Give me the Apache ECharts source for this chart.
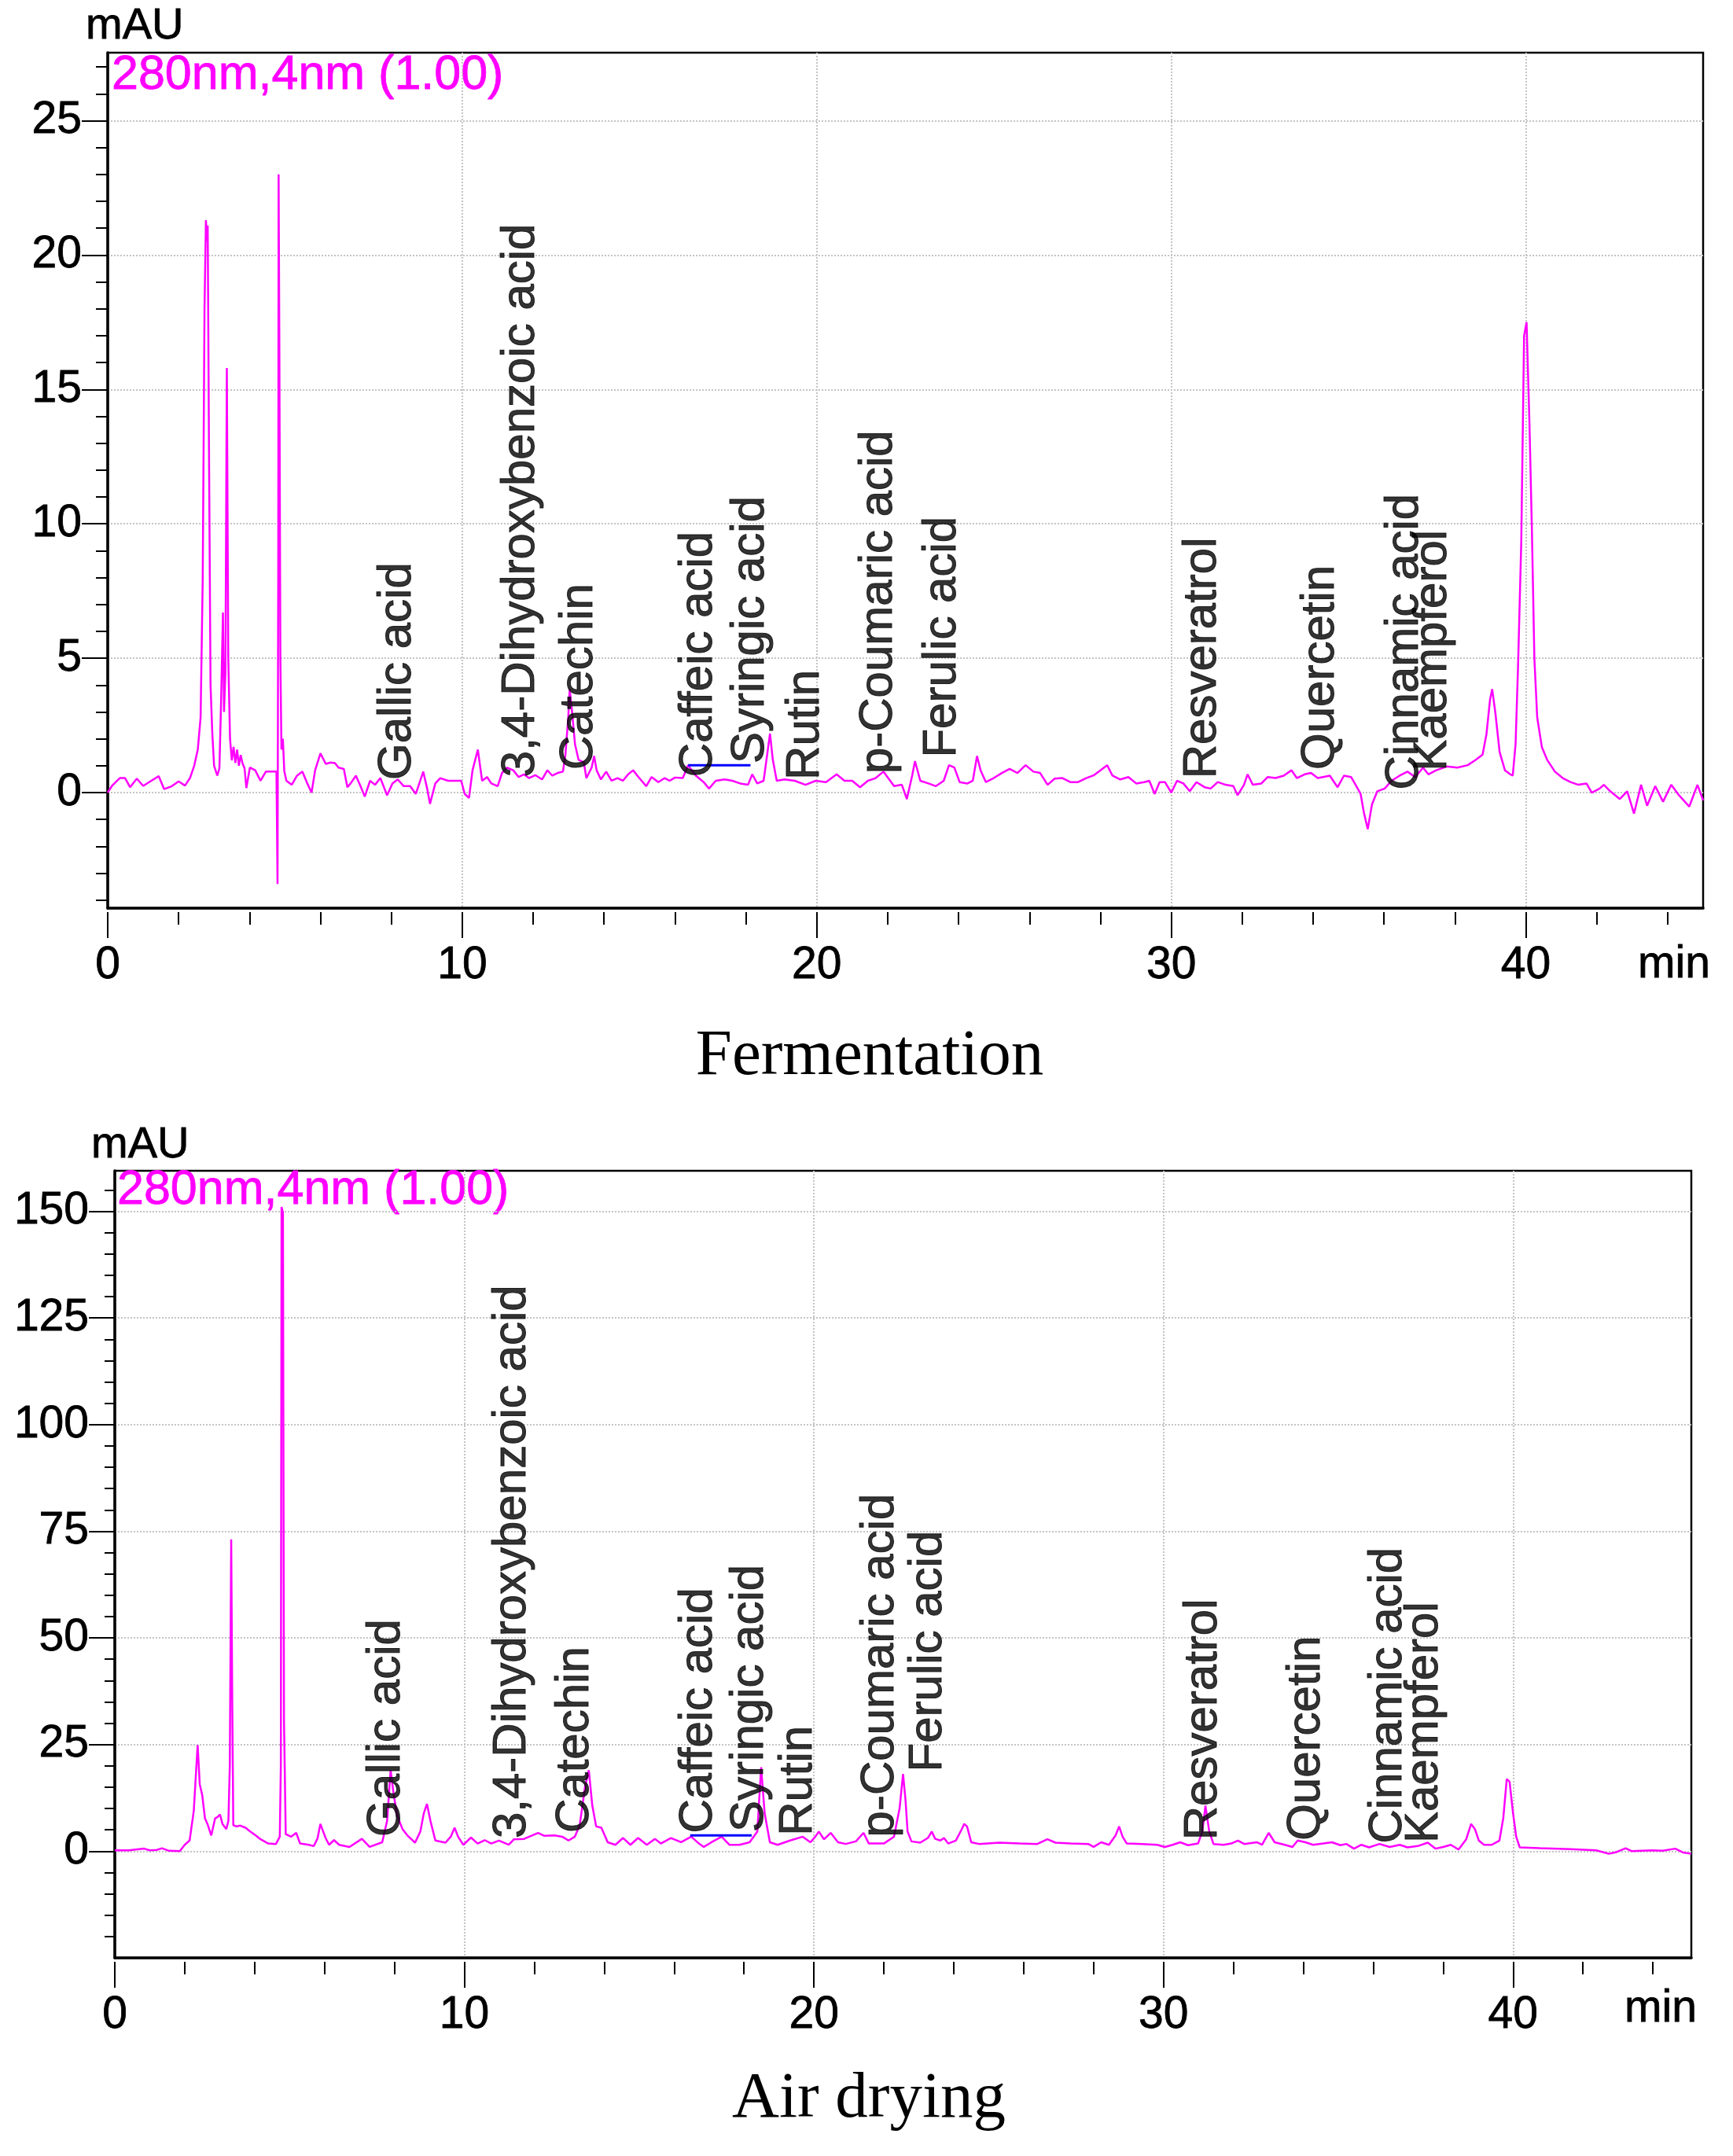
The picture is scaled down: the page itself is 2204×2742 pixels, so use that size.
<!DOCTYPE html>
<html>
<head>
<meta charset="utf-8">
<script src="https://cdn.jsdelivr.net/npm/echarts@6/dist/echarts.min.js"></script>
<style>
html, body { margin: 0; padding: 0; background: #fff; }
#chart { width: 2204px; height: 2742px; }
</style>
</head>
<body>
<div id="chart"></div>
<script>
// Fermentation trace (min, mAU)
var topTime = [0.00, 0.12, 0.34, 0.49, 0.63, 0.82, 1.00, 1.29, 1.44, 1.59, 1.81, 2.00, 2.18, 2.32, 2.44, 2.54, 2.62, 2.68, 2.73, 2.77,
    2.80, 2.82, 2.86, 2.90, 2.95, 3.00, 3.09, 3.15, 3.20, 3.25, 3.28, 3.32, 3.36, 3.40, 3.45, 3.50, 3.55, 3.60, 3.65, 3.70,
    3.75, 3.80, 3.86, 3.91, 4.01, 4.16, 4.31, 4.46, 4.60, 4.76, 4.79, 4.81, 4.82, 4.84, 4.87, 4.90, 4.94, 4.98, 5.04, 5.19,
    5.34, 5.49, 5.63, 5.75, 5.85, 6.00, 6.15, 6.29, 6.41, 6.51, 6.66, 6.76, 6.85, 7.00, 7.13, 7.25, 7.40, 7.54, 7.69, 7.88,
    8.03, 8.18, 8.35, 8.53, 8.69, 8.90, 9.01, 9.09, 9.24, 9.38, 9.60, 9.97, 10.07, 10.19, 10.29, 10.44, 10.56, 10.70, 10.82, 11.00,
    11.12, 11.26, 11.44, 11.59, 11.74, 11.88, 12.06, 12.25, 12.40, 12.54, 12.69, 12.84, 12.91, 12.99, 13.03, 13.10, 13.18, 13.28, 13.43, 13.50,
    13.65, 13.72, 13.79, 13.91, 14.06, 14.21, 14.38, 14.53, 14.68, 14.82, 14.97, 15.19, 15.34, 15.53, 15.71, 15.85, 16.00, 16.22, 16.37, 16.59,
    16.81, 16.96, 17.15, 17.40, 17.62, 17.84, 18.06, 18.18, 18.32, 18.50, 18.60, 18.68, 18.76, 18.87, 19.09, 19.38, 19.68, 19.97, 20.26, 20.56,
    20.78, 21.00, 21.22, 21.44, 21.66, 21.88, 22.18, 22.40, 22.54, 22.69, 22.77, 22.92, 23.15, 23.36, 23.58, 23.73, 23.88, 24.03, 24.25, 24.40,
    24.52, 24.62, 24.77, 24.99, 25.22, 25.44, 25.66, 25.89, 26.11, 26.30, 26.51, 26.71, 26.93, 27.15, 27.37, 27.60, 27.82, 28.00, 28.19, 28.34,
    28.56, 28.79, 29.01, 29.23, 29.38, 29.53, 29.67, 29.82, 30.00, 30.16, 30.34, 30.52, 30.71, 30.94, 31.11, 31.31, 31.53, 31.75, 31.87, 32.05,
    32.15, 32.30, 32.54, 32.72, 32.94, 33.17, 33.39, 33.54, 33.76, 33.94, 34.13, 34.28, 34.47, 34.69, 34.87, 35.07, 35.22, 35.34, 35.43, 35.54,
    35.66, 35.81, 36.02, 36.21, 36.44, 36.66, 36.88, 37.10, 37.25, 37.47, 37.77, 38.07, 38.36, 38.59, 38.78, 38.89, 38.99, 39.05, 39.14, 39.26,
    39.41, 39.56, 39.63, 39.71, 39.78, 39.87, 39.95, 40.02, 40.10, 40.17, 40.24, 40.32, 40.45, 40.60, 40.82, 41.04, 41.26, 41.48, 41.71, 41.86,
    42.08, 42.20, 42.38, 42.65, 42.86, 43.05, 43.25, 43.42, 43.65, 43.87, 44.10, 44.32, 44.61, 44.84, 45.00];
var topValue = [0.00, 0.25, 0.54, 0.54, 0.20, 0.52, 0.25, 0.49, 0.61, 0.13, 0.24, 0.42, 0.26, 0.54, 1.00, 1.60, 2.80, 8.0, 18.0, 21.3,
    20.5, 21.1, 12.0, 4.0, 2.2, 1.0, 0.63, 0.9, 3.5, 6.7, 3.0, 4.5, 15.8, 5.0, 2.0, 1.2, 1.7, 1.1, 1.6, 1.0,
    1.4, 1.1, 0.9, 0.17, 0.93, 0.83, 0.44, 0.78, 0.78, 0.78, -3.4, 8.5, 23.0, 17.0, 5.0, 1.6, 2.0, 0.8, 0.44, 0.29,
    0.63, 0.78, 0.34, 0.00, 0.83, 1.46, 1.07, 1.12, 1.10, 0.93, 0.88, 0.20, 0.34, 0.63, 0.24, -0.15, 0.44, 0.29, 0.54, -0.10,
    0.34, 0.49, 0.24, 0.24, -0.05, 0.78, 0.15, -0.42, 0.34, 0.54, 0.44, 0.44, -0.05, -0.20, 0.83, 1.60, 0.44, 0.58, 0.34, 0.24,
    0.73, 0.93, 0.83, 0.58, 0.68, 0.54, 0.65, 0.49, 0.83, 0.63, 0.73, 0.78, 1.41, 2.80, 3.85, 2.97, 1.80, 1.22, 1.12, 0.54,
    0.93, 1.36, 0.83, 0.49, 0.78, 0.44, 0.54, 0.44, 0.68, 0.83, 0.58, 0.24, 0.58, 0.39, 0.54, 0.44, 0.56, 0.54, 1.02, 0.63,
    0.39, 0.15, 0.44, 0.49, 0.44, 0.34, 0.29, 0.68, 0.34, 0.44, 1.41, 2.20, 1.22, 0.44, 0.49, 0.44, 0.29, 0.44, 0.39, 0.68,
    0.44, 0.44, 0.20, 0.44, 0.54, 0.78, 0.24, 0.29, -0.24, 0.63, 1.17, 0.44, 0.34, 0.24, 0.44, 1.02, 0.93, 0.39, 0.34, 0.44,
    1.36, 0.83, 0.39, 0.54, 0.73, 0.88, 0.73, 1.02, 0.78, 0.73, 0.29, 0.52, 0.54, 0.39, 0.39, 0.54, 0.65, 0.83, 1.02, 0.63,
    0.49, 0.58, 0.34, 0.39, 0.44, -0.05, 0.39, 0.39, 0.00, 0.44, 0.34, 0.05, 0.39, 0.20, 0.15, 0.39, 0.29, 0.24, -0.10, 0.29,
    0.68, 0.29, 0.34, 0.58, 0.54, 0.63, 0.83, 0.54, 0.68, 0.73, 0.54, 0.58, 0.63, 0.20, 0.63, 0.58, 0.24, -0.05, -0.73, -1.36,
    -0.44, 0.05, 0.15, 0.44, 0.63, 0.78, 0.58, 0.93, 0.68, 0.83, 0.97, 0.93, 1.02, 1.22, 1.41, 2.19, 3.46, 3.85, 2.97, 1.51,
    0.83, 0.68, 0.63, 1.80, 4.7, 9.3, 17.0, 17.5, 13.8, 9.8, 5.0, 2.8, 1.7, 1.22, 0.78, 0.54, 0.39, 0.29, 0.34, 0.00,
    0.15, 0.29, 0.05, -0.24, 0.05, -0.78, 0.29, -0.49, 0.24, -0.34, 0.29, -0.10, -0.52, 0.29, -0.29];

// Air drying trace (min, mAU)
var botTime = [0.00, 0.40, 0.84, 1.00, 1.20, 1.35, 1.55, 1.86, 2.00, 2.14,
    2.26, 2.32, 2.37, 2.43, 2.50, 2.58, 2.65, 2.76, 2.87, 2.94,
    3.01, 3.08, 3.19, 3.25, 3.29, 3.33, 3.36, 3.39, 3.48, 3.59,
    3.74, 3.88, 4.03, 4.17, 4.39, 4.61, 4.72, 4.75, 4.77, 4.81,
    4.84, 4.89, 5.04, 5.19, 5.30, 5.55, 5.69, 5.80, 5.88, 6.03,
    6.13, 6.27, 6.42, 6.71, 7.07, 7.29, 7.65, 7.79, 7.89, 7.98,
    8.08, 8.23, 8.37, 8.59, 8.74, 8.84, 8.93, 9.03, 9.17, 9.46,
    9.61, 9.72, 9.82, 9.97, 10.19, 10.38, 10.58, 10.77, 10.99, 11.27,
    11.42, 11.71, 12.11, 12.29, 12.58, 12.80, 12.98, 13.16, 13.30, 13.45,
    13.56, 13.66, 13.77, 13.92, 14.10, 14.32, 14.54, 14.75, 14.97, 15.22,
    15.45, 15.62, 15.91, 16.20, 16.49, 16.71, 16.85, 17.07, 17.36, 17.58,
    17.87, 18.16, 18.38, 18.49, 18.59, 18.74, 18.96, 19.32, 19.68, 19.90,
    20.04, 20.14, 20.29, 20.48, 20.69, 20.91, 21.20, 21.42, 21.57, 22.00,
    22.29, 22.45, 22.55, 22.62, 22.68, 22.79, 23.04, 23.26, 23.37, 23.47,
    23.62, 23.72, 23.84, 24.06, 24.22, 24.30, 24.38, 24.50, 24.72, 25.30,
    25.88, 26.39, 26.68, 26.91, 27.34, 27.85, 28.00, 28.22, 28.44, 28.63,
    28.73, 28.83, 28.95, 29.39, 29.82, 30.04, 30.26, 30.48, 30.70, 30.99,
    31.11, 31.20, 31.31, 31.43, 31.72, 31.94, 32.13, 32.31, 32.67, 32.82,
    33.01, 33.18, 33.47, 33.69, 33.84, 34.06, 34.28, 34.57, 34.82, 35.06,
    35.23, 35.45, 35.66, 35.88, 36.18, 36.47, 36.76, 36.98, 37.27, 37.56,
    37.78, 38.00, 38.22, 38.44, 38.66, 38.80, 38.91, 39.02, 39.17, 39.39,
    39.61, 39.72, 39.82, 39.90, 40.00, 40.09, 40.19, 40.77, 41.65, 42.38,
    42.74, 42.96, 43.22, 43.40, 43.98, 44.28, 44.64, 44.86, 45.10];
var botValue = [0.2, 0.2, 0.6, 0.2, 0.3, 0.7, 0.1, 0.0, 1.5, 2.5,
    9.5, 18.0, 24.9, 15.7, 13.2, 7.7, 6.4, 3.7, 7.7, 8.0,
    8.6, 6.4, 5.2, 7.1, 20.0, 73.1, 35.0, 6.1, 5.8, 6.0,
    5.5, 4.6, 3.7, 2.8, 1.8, 1.7, 3.4, 20.0, 151.0, 149.7,
    30.5, 4.0, 3.4, 4.3, 1.8, 1.5, 1.2, 3.0, 6.4, 3.1,
    1.5, 2.6, 1.5, 1.0, 2.9, 1.0, 2.1, 7.1, 19.0, 13.2,
    8.3, 5.2, 3.7, 2.0, 4.6, 8.9, 11.1, 7.1, 2.5, 2.0,
    3.4, 5.5, 3.4, 1.5, 3.2, 1.8, 2.6, 1.8, 2.5, 1.5,
    2.8, 2.9, 4.3, 3.6, 3.7, 3.4, 2.5, 3.4, 6.1, 15.0,
    19.0, 10.7, 5.8, 5.5, 2.1, 1.5, 3.1, 1.5, 3.1, 1.5,
    2.9, 1.8, 3.1, 2.1, 3.4, 1.8, 1.0, 2.1, 3.4, 1.5,
    1.5, 2.1, 4.6, 19.7, 8.9, 2.1, 1.5, 2.5, 3.4, 2.1,
    3.4, 4.6, 2.8, 4.3, 2.1, 1.7, 2.3, 4.3, 1.8, 1.8,
    3.4, 10.0, 18.1, 12.0, 4.6, 2.3, 2.0, 3.1, 4.6, 2.9,
    2.5, 3.1, 1.8, 2.5, 5.0, 6.4, 5.8, 2.1, 1.7, 2.0,
    1.8, 1.7, 2.8, 2.0, 1.8, 1.7, 1.0, 2.1, 1.5, 3.7,
    5.8, 3.4, 1.8, 1.7, 1.5, 1.0, 1.5, 2.1, 1.4, 1.8,
    4.6, 10.7, 4.6, 1.7, 1.5, 1.8, 2.5, 1.7, 2.1, 1.5,
    4.3, 2.1, 1.5, 1.0, 2.5, 2.1, 1.5, 1.8, 2.1, 1.4,
    1.7, 0.6, 1.5, 0.9, 1.7, 1.0, 1.5, 0.9, 1.2, 2.0,
    0.6, 1.0, 1.5, 0.4, 2.8, 6.4, 5.2, 2.5, 1.5, 1.5,
    2.5, 7.7, 16.9, 16.3, 8.9, 3.4, 0.9, 0.7, 0.5, 0.2,
    -0.6, -0.2, 0.7, 0.0, 0.2, 0.1, 0.6, -0.3, -0.6];

// peak names and where their text starts (min, mAU)
var peakNames = ['Gallic acid', '3,4-Dihydroxybenzoic acid', 'Catechin', 'Caffeic acid', 'Syringic acid', 'Rutin',
    'p-Coumaric acid', 'Ferulic acid', 'Resveratrol', 'Quercetin', 'Cinnamic acid', 'Kaempferol'];
var topLabelTime = [8.18, 11.65, 13.30, 16.67, 18.14, 19.69, 21.75, 23.54, 30.89, 34.22, 36.59, 37.37];
var topLabelBase = [0.47, 0.58, 0.85, 0.58, 1.08, 0.47, 0.70, 1.30, 0.52, 0.85, 0.10, 0.80];
var botLabelTime = [7.78, 11.36, 13.17, 16.71, 18.16, 19.55, 21.89, 23.27, 31.15, 34.09, 36.43, 37.47];
var botLabelBase = [3.4, 3.0, 4.3, 4.2, 4.5, 3.6, 3.3, 18.6, 2.6, 2.5, 1.8, 1.9];

// integration baselines (min, mAU)
var topBaseline = [[16.37, 1.02], [18.13, 1.02]];
var botBaseline = [[16.46, 3.7], [18.22, 3.7]];

// axis ticks
var xTicks = [0, 10, 20, 30, 40];
var topYTicks = [0, 5, 10, 15, 20, 25];
var botYTicks = [0, 25, 50, 75, 100, 125, 150];

function minorList(from, to, step, major) {
    var out = [];
    for (var v = from; v <= to + 1e-9; v += step) {
        if (Math.abs(v % major) > 1e-9) out.push(Math.round(v * 100) / 100);
    }
    return out;
}
var xMinor = minorList(2, 44, 2, 10);
var topYMinor = minorList(-4, 27, 1, 5);
var botYMinor = minorList(-20, 155, 5, 25);

var SANS = 'Liberation Sans';
var SERIF = 'Liberation Serif';
var MAGENTA = '#ff00ff';

function pairs(t, v) {
    return t.map(function (x, i) { return [x, v[i]]; });
}

function mainAxis(dim, grid, min, max, ticks) {
    return {
        type: 'value', gridIndex: grid, min: min, max: max,
        position: dim === 'x' ? 'bottom' : 'left',
        axisLine: { show: true, onZero: false, lineStyle: { color: '#000', width: 3.5 } },
        axisTick: { show: false, customValues: ticks },
        axisLabel: {
            show: true, customValues: ticks, margin: dim === 'x' ? 45 : 33,
            fontSize: 57, fontFamily: SANS, color: '#000',
            textBorderColor: '#000', textBorderWidth: 0.8
        },
        splitLine: { show: true, lineStyle: { color: '#c4c4c4', type: 'dotted', width: 2 } }
    };
}

function tickAxis(dim, grid, min, max, ticks, len, offset) {
    return {
        type: 'value', gridIndex: grid, min: min, max: max, offset: offset,
        position: dim === 'x' ? 'bottom' : 'left',
        axisLine: { show: false, onZero: false },
        axisLabel: { show: false },
        splitLine: { show: false },
        axisTick: { show: true, customValues: ticks, length: len, lineStyle: { color: '#000', width: 2 } }
    };
}

var TOP_X = [0, 45.0], TOP_Y = [-4.3, 27.53];
var BOT_X = [0, 45.1], BOT_Y = [-25, 159.5];

function labelSeries(xi, yi, times, bases) {
    return {
        type: 'scatter', xAxisIndex: xi, yAxisIndex: yi, symbolSize: 1, silent: true, z: 5,
        itemStyle: { color: 'rgba(0,0,0,0)' },
        data: peakNames.map(function (n, i) { return { name: n, value: [times[i], bases[i]] }; }),
        label: {
            show: true, position: 'inside', rotate: 90, align: 'left', verticalAlign: 'middle',
            formatter: '{b}', fontSize: 60, fontFamily: SANS, color: '#000',
            textBorderColor: '#000', textBorderWidth: 1
        }
    };
}

function text(x, y, str, size, family, color, align, weight) {
    return {
        type: 'text', x: x, y: y, silent: true,
        style: {
            text: str, fontSize: size, fontFamily: family, fill: color,
            stroke: color, lineWidth: weight,
            textAlign: align, textVerticalAlign: 'middle', align: align, verticalAlign: 'middle'
        }
    };
}

var option = {
    backgroundColor: '#fff',
    animation: false,
    grid: [
        { left: 137, top: 67, width: 2029, height: 1088, show: true, borderColor: '#000', borderWidth: 2.5 },
        { left: 146, top: 1489, width: 2005, height: 1001, show: true, borderColor: '#000', borderWidth: 2.5 }
    ],
    xAxis: [
        mainAxis('x', 0, TOP_X[0], TOP_X[1], xTicks),
        tickAxis('x', 0, TOP_X[0], TOP_X[1], xTicks, 33, 5),
        tickAxis('x', 0, TOP_X[0], TOP_X[1], xMinor, 16, 5),
        mainAxis('x', 1, BOT_X[0], BOT_X[1], xTicks),
        tickAxis('x', 1, BOT_X[0], BOT_X[1], xTicks, 33, 5),
        tickAxis('x', 1, BOT_X[0], BOT_X[1], xMinor, 16, 5)
    ],
    yAxis: [
        mainAxis('y', 0, TOP_Y[0], TOP_Y[1], topYTicks),
        tickAxis('y', 0, TOP_Y[0], TOP_Y[1], topYTicks, 33, 0),
        tickAxis('y', 0, TOP_Y[0], TOP_Y[1], topYMinor, 15, 0),
        mainAxis('y', 1, BOT_Y[0], BOT_Y[1], botYTicks),
        tickAxis('y', 1, BOT_Y[0], BOT_Y[1], botYTicks, 33, 0),
        tickAxis('y', 1, BOT_Y[0], BOT_Y[1], botYMinor, 13, 0)
    ],
    series: [
        {
            type: 'line', xAxisIndex: 0, yAxisIndex: 0, data: pairs(topTime, topValue),
            showSymbol: false, symbol: 'none', clip: true,
            lineStyle: { color: MAGENTA, width: 2.5 }, z: 3
        },
        {
            type: 'line', xAxisIndex: 0, yAxisIndex: 0, data: topBaseline,
            showSymbol: false, symbol: 'none', lineStyle: { color: '#0000ff', width: 3 }, z: 4
        },
        labelSeries(0, 0, topLabelTime, topLabelBase),
        {
            type: 'line', xAxisIndex: 3, yAxisIndex: 3, data: pairs(botTime, botValue),
            showSymbol: false, symbol: 'none', clip: true,
            lineStyle: { color: MAGENTA, width: 2.5 }, z: 3
        },
        {
            type: 'line', xAxisIndex: 3, yAxisIndex: 3, data: botBaseline,
            showSymbol: false, symbol: 'none', lineStyle: { color: '#0000ff', width: 3 }, z: 4
        },
        labelSeries(3, 3, botLabelTime, botLabelBase)
    ],
    graphic: [
        text(109, 34, 'mAU', 56, SANS, '#000', 'left', 0.8),
        text(142, 96, '280nm,4nm (1.00)', 61, SANS, MAGENTA, 'left', 0.8),
        text(2083, 1227, 'min', 57, SANS, '#000', 'left', 0.8),
        text(1106, 1344, 'Fermentation', 83, SERIF, '#000', 'center', 0),
        text(116, 1457, 'mAU', 56, SANS, '#000', 'left', 0.8),
        text(149, 1514, '280nm,4nm (1.00)', 61, SANS, MAGENTA, 'left', 0.8),
        text(2066, 2555, 'min', 57, SANS, '#000', 'left', 0.8),
        text(1105, 2670, 'Air drying', 83, SERIF, '#000', 'center', 0)
    ]
};

var chart = echarts.init(document.getElementById('chart'), null, { renderer: 'canvas' });
chart.setOption(option);
</script>
</body>
</html>
